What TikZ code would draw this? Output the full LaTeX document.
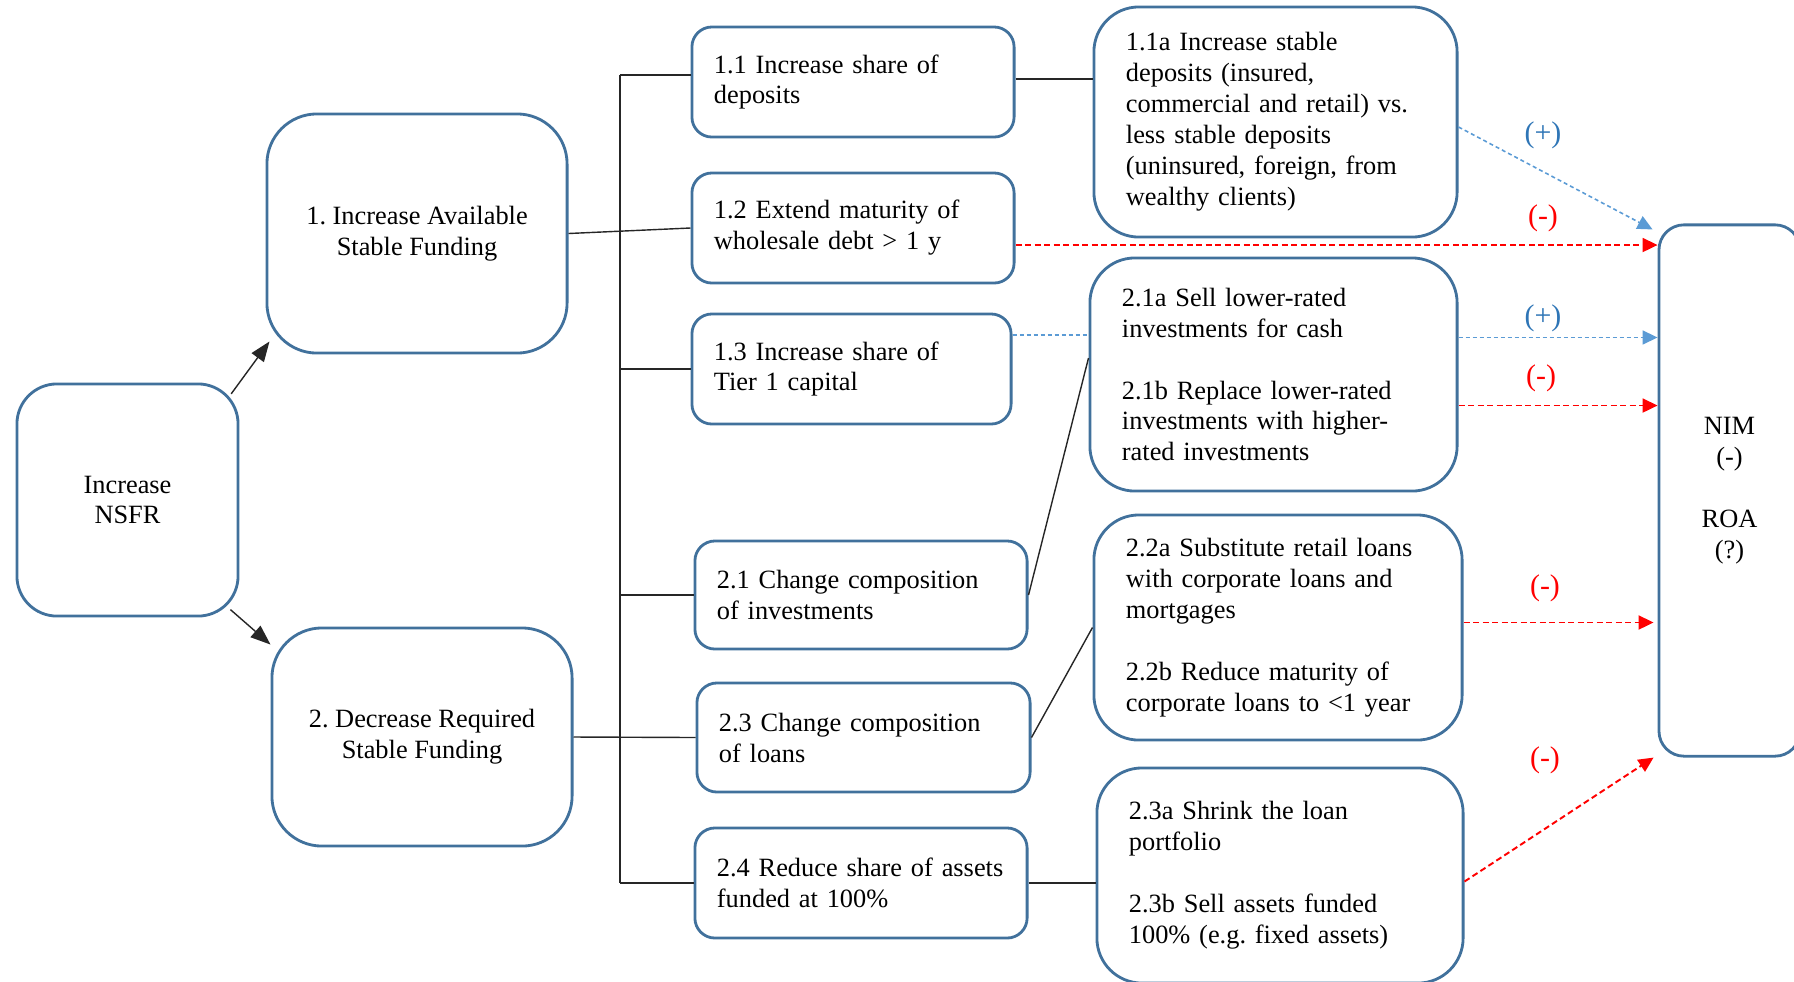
\documentclass[tikz,border=0pt]{standalone}
\usepackage{fontspec}
\setmainfont{Liberation Serif}
\frenchspacing
\usetikzlibrary{arrows.meta}
\definecolor{boxblue}{RGB}{65,113,156}
\definecolor{arrblue}{RGB}{91,155,213}
\definecolor{lblblue}{RGB}{46,117,182}
\begin{document}
\begin{tikzpicture}[x = .01cm, y = -.01cm,
	box/.style = {draw = boxblue, line width = .8pt, rounded corners = .2cm, inner ysep = 0pt, align = left, font = \fontsize{7.5}{8.8}\selectfont},
	midbox/.style = {box, inner xsep = .22cm},
	rightbox/.style = {box, inner xsep = .32cm, rounded corners = .45cm},
	bigbox/.style = {box, align = center, rounded corners = .5cm},
	conn/.style = {line width = .4pt, black!85},
	bluedash/.style = {line width = .45pt, arrblue, dash pattern = on .04cm off .03cm},
	reddash/.style = {line width = .55pt, red, dash pattern = on .06cm off .035cm},
	tip/.style = {-{Triangle[length = .15cm, width = .14cm]}},
	bigtip/.style = {-{Triangle[length = .2cm, width = .15cm]}},
	sign/.style = {font = \fontsize{8.5}{10}\selectfont, inner sep = 0pt}]
	\useasboundingbox (0,0) rectangle (1794,981);
	\clip (0,0) rectangle (1794,981);
	% left boxes
	\node[bigbox, minimum width = 2.21cm, minimum height = 2.32cm, rounded corners = .4cm] (nsfr) at (127.5,500) {Increase\\NSFR};
	\node[bigbox, minimum width = 3cm, minimum height = 2.39cm] (asf) at (417,233.5) {1. Increase Available\\Stable Funding};
	\node[bigbox, minimum width = 3cm, minimum height = 2.18cm] (rsf) at (422,737) {2. Decrease Required\\Stable Funding};
	% middle column
	\node[midbox, text width = 2.78cm, minimum height = 1.1cm] (n11) at (853,82) {1.1 Increase share of\\deposits};
	\node[midbox, text width = 2.78cm, minimum height = 1.1cm] (n12) at (853,228) {1.2 Extend maturity of\\wholesale debt > 1 y};
	\node[midbox, text width = 2.75cm, minimum height = 1.1cm] (n13) at (851.5,369) {1.3 Increase share of\\Tier 1 capital};
	\node[midbox, text width = 2.88cm, minimum height = 1.08cm] (n21) at (861,595) {2.1 Change composition\\of investments};
	\node[midbox, text width = 2.89cm, minimum height = 1.09cm] (n23) at (863.5,737.5) {2.3 Change composition\\of loans};
	\node[midbox, text width = 2.88cm, minimum height = 1.1cm] (n24) at (861,883) {2.4 Reduce share of assets\\funded at 100\%};
	% right column
	\node[rightbox, text width = 2.99cm, minimum height = 2.3cm] (n11a) at (1275.5,122) {1.1a Increase stable\\deposits (insured,\\commercial and retail) vs.\\less stable deposits\\(uninsured, foreign, from\\wealthy clients)};
	\node[rightbox, text width = 3.03cm, minimum height = 2.33cm] (n21ab) at (1273.5,374.5) {2.1a Sell lower-rated\\investments for cash\\[8.8pt]2.1b Replace lower-rated\\investments with higher-\\rated investments};
	\node[rightbox, text width = 3.04cm, minimum height = 2.25cm] (n22ab) at (1278,627.5) {2.2a Substitute retail loans\\with corporate loans and\\mortgages\\[8.8pt]2.2b Reduce maturity of\\corporate loans to <1 year};
	\node[rightbox, text width = 3.02cm, minimum height = 2.15cm] (n23ab) at (1280,875.5) {2.3a Shrink the loan\\portfolio\\[8.8pt]2.3b Sell assets funded\\100\% (e.g. fixed assets)};
	\node[bigbox, minimum width = 1.41cm, minimum height = 5.31cm, rounded corners = .25cm] (nim) at (1729.5,490.5) {NIM\\(-)\\[8.8pt]ROA\\(?)};
	% arrows from NSFR
	\draw[conn, bigtip, shorten <= -.14cm] (nsfr.north east) -- ([xshift = .04cm, yshift = .13cm]asf.south west);
	\draw[conn, bigtip, shorten <= -.12cm] (nsfr.south east) -- ([yshift = -.18cm]rsf.north west);
	% tree lines
	\coordinate (ttop) at (620,75);
	\coordinate (tbot) at (ttop |- n24.west);
	\draw[conn] (ttop) -- (tbot);
	\draw[conn] (ttop) -- (ttop -| n11.west);
	\draw[conn] (asf.east) -- (n12.west);
	\draw[conn] (n13.west) -- (n13.west -| ttop);
	\draw[conn] (n21.west) -- (n21.west -| ttop);
	\draw[conn] (rsf.east) -- (n23.west);
	\draw[conn] (tbot) -- (n24.west);
	% links to the right column
	\draw[conn] ([yshift = .03cm]n11.east) -- ([yshift = .03cm]n11.east -| n11a.west);
	\draw[bluedash] ([yshift = .34cm]n13.east) -- ([yshift = .34cm]n13.east -| n21ab.west);
	\draw[conn] (n21.east) -- ([yshift = .165cm]n21ab.west);
	\draw[conn] (n23.east) -- (n22ab.west);
	\draw[conn] (n24.east) -- (n24.east -| n23ab.west);
	% effects on NIM / ROA
	\draw[bluedash, tip] ([yshift = -.05cm]n11a.east) -- ([xshift = -.05cm, yshift = -.06cm]nim.north west);
	\draw[reddash, tip] ([yshift = -.17cm]n12.east) -- ([yshift = -.17cm]n12.east -| nim.west);
	\draw[bluedash, tip] ([yshift = .37cm]n21ab.east) -- ([yshift = .37cm]n21ab.east -| nim.west);
	\draw[reddash, tip] ([yshift = -.31cm]n21ab.east) -- ([yshift = -.31cm]n21ab.east -| nim.west);
	\draw[reddash, tip] ([yshift = .05cm]n22ab.east) -- ([xshift = -.04cm, yshift = .05cm]n22ab.east -| nim.west);
	\draw[reddash, tip] ([yshift = -.06cm]n23ab.east) -- ([xshift = -.04cm]nim.south west);
	% signs
	\node[sign, lblblue] (s1) at (1543,135) {(+)};
	\node[sign, red] (s2) at (1543,218) {(-)};
	\node[sign, lblblue] (s3) at (1543,318) {(+)};
	\node[sign, red] (s4) at (1541,378) {(-)};
	\node[sign, red] (s5) at (1545,588) {(-)};
	\node[sign, red] (s6) at (1545,760) {(-)};
\end{tikzpicture}
\end{document}
